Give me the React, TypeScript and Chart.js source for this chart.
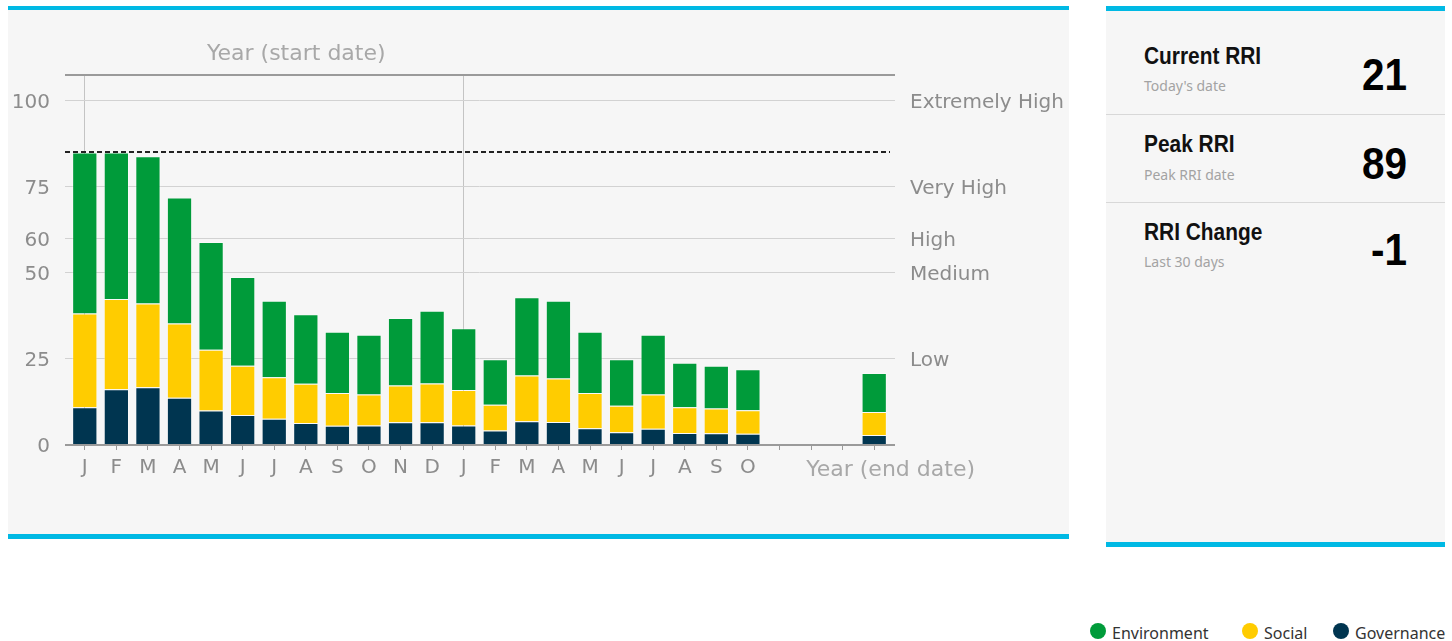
import React, { useEffect, useRef } from "react";
import { Chart, registerables } from "chart.js";

Chart.register(...registerables);

const MONTHS = ["J", "F", "M", "A", "M", "J", "J", "A", "S", "O", "N", "D", "J", "F", "M", "A", "M", "J", "J", "A", "S", "O", "", "", "", ""];
const GOVERNANCE = [11, 16.2, 16.8, 13.7, 10.0, 8.7, 7.6, 6.4, 5.6, 5.7, 6.6, 6.6, 5.7, 4.2, 6.9, 6.7, 4.9, 3.7, 4.7, 3.5, 3.4, 3.3, null, null, null, 2.9];
const SOCIAL = [27.2, 26.2, 24.3, 21.6, 17.7, 14.3, 12.1, 11.4, 9.5, 9.0, 10.7, 11.3, 10.3, 7.5, 13.3, 12.6, 10.2, 7.7, 10.0, 7.5, 7.2, 6.8, null, null, null, 6.7];
const ENVIRONMENT = [46.8, 42.6, 42.8, 36.6, 31.3, 25.8, 22.2, 20.2, 17.8, 17.3, 19.6, 21.1, 17.9, 13.2, 22.7, 22.6, 17.8, 13.5, 17.3, 12.9, 12.4, 11.9, null, null, null, 11.3];

const Y_TICKS = [0, 25, 50, 60, 75, 100];
const RISK_LEVELS = [25, 50, 60, 75, 100];
const RISK_NAMES = ["Low", "Medium", "High", "Very High", "Extremely High"];
const Y_MAX = 107.5;
const PEAK_LINE = 85;
const YEAR_STARTS = [0, 12];
const TOP_TITLE = "Year (start date)";
const END_TITLE = "Year (end date)";

const STAT_TITLES = ["Current RRI", "Peak RRI", "RRI Change"];
const STAT_SUBTITLES = ["Today's date", "Peak RRI date", "Last 30 days"];
const STAT_VALUES = ["21", "89", "-1"];

const LEGEND_NAMES = ["Environment", "Social", "Governance"];

const GREEN = "#009b3a";
const YELLOW = "#ffcc00";
const NAVY = "#003550";
const BLUE = "#00b9e4";
const PANEL_BG = "#f6f6f6";
const TICK_COLOR = "#8c8c8c";
const TITLE_COLOR = "#a8a8a8";
const GRID_COLOR = "#d2d2d2";
const AXIS_COLOR = "#9a9a9a";
const CHART_FONT = "'DejaVu Sans', sans-serif";
const BOLD_FONT = "'Liberation Sans', Arial, sans-serif";
const SANS_FONT = "'Noto Sans', sans-serif";

const decorations = {
  id: "decorations",
  afterDatasetsDraw(chart: any) {
    const { ctx, chartArea, scales } = chart;
    const y = scales.y;
    ctx.save();
    ctx.strokeStyle = AXIS_COLOR;
    ctx.lineWidth = 2;
    [Y_MAX, 0].forEach((v) => {
      const py = Math.round(y.getPixelForValue(v));
      ctx.beginPath();
      ctx.moveTo(chartArea.left - 4, py);
      ctx.lineTo(chartArea.right + 5, py);
      ctx.stroke();
    });
    const pk = Math.round(y.getPixelForValue(PEAK_LINE));
    ctx.strokeStyle = "#222";
    ctx.setLineDash([5, 3]);
    ctx.beginPath();
    ctx.moveTo(chartArea.left - 4, pk);
    ctx.lineTo(chartArea.right, pk);
    ctx.stroke();
    ctx.setLineDash([]);
    ctx.font = `22px ${CHART_FONT}`;
    ctx.fillStyle = TITLE_COLOR;
    ctx.textBaseline = "middle";
    ctx.textAlign = "left";
    ctx.fillText(TOP_TITLE, chartArea.left + 138, chartArea.top - 21);
    ctx.textAlign = "right";
    ctx.fillText(END_TITLE, chartArea.right + 85, chartArea.bottom + 25);
    ctx.restore();
  },
};

function ChartPanel() {
  const ref = useRef<HTMLCanvasElement | null>(null);
  useEffect(() => {
    if (!ref.current) return;
    const barCommon = {
      barPercentage: 0.8,
      categoryPercentage: 1,
      borderWidth: 1,
      borderColor: "rgba(255,255,255,0.35)",
      xAxisID: "x",
      yAxisID: "y",
    };
    const chart = new Chart(ref.current, {
      type: "bar",
      data: {
        labels: MONTHS,
        datasets: [
          { label: "Governance", data: GOVERNANCE, backgroundColor: NAVY, ...barCommon },
          { label: "Social", data: SOCIAL, backgroundColor: YELLOW, ...barCommon },
          { label: "Environment", data: ENVIRONMENT, backgroundColor: GREEN, ...barCommon },
        ] as any,
      },
      options: {
        animation: false,
        responsive: false,
        maintainAspectRatio: false,
        layout: { padding: 0 },
        plugins: { legend: { display: false }, tooltip: { enabled: false } },
        scales: {
          x: {
            type: "category",
            position: "bottom",
            stacked: true,
            offset: true,
            grid: { offset: false, drawOnChartArea: false, drawTicks: true, tickLength: 5, color: AXIS_COLOR, lineWidth: 1 },
            border: { display: false },
            ticks: { autoSkip: false, maxRotation: 0, padding: 6, color: TICK_COLOR, font: { family: CHART_FONT, size: 20 } },
            afterFit: (s: any) => { s.height = 89; },
          },
          xTop: {
            type: "category",
            position: "top",
            offset: true,
            grid: {
              offset: false,
              drawTicks: false,
              lineWidth: 1,
              color: (c: any) => (YEAR_STARTS.includes(c.index) ? "#c4c4c4" : "rgba(0,0,0,0)"),
            },
            border: { display: false },
            ticks: { display: false },
            afterFit: (s: any) => { s.height = 65; },
          },
          y: {
            type: "linear",
            position: "left",
            stacked: true,
            min: 0,
            max: Y_MAX,
            afterBuildTicks: (s: any) => { s.ticks = Y_TICKS.map((value) => ({ value })); },
            grid: { color: GRID_COLOR, lineWidth: 1, drawTicks: true, tickLength: 4 },
            border: { display: false },
            ticks: { padding: 15, labelOffset: 2, color: TICK_COLOR, font: { family: CHART_FONT, size: 20 } },
            afterFit: (s: any) => { s.width = 61; },
          },
          yRight: {
            type: "linear",
            position: "right",
            min: 0,
            max: Y_MAX,
            afterBuildTicks: (s: any) => { s.ticks = RISK_LEVELS.map((value) => ({ value })); },
            grid: { drawOnChartArea: false, color: GRID_COLOR, lineWidth: 1, drawTicks: true, tickLength: 5 },
            border: { display: false },
            ticks: {
              padding: 15,
              labelOffset: 2,
              color: TICK_COLOR,
              font: { family: CHART_FONT, size: 20 },
              callback: (_v: any, i: number) => RISK_NAMES[i],
            },
            afterFit: (s: any) => { s.width = 179; },
          },
        },
      } as any,
      plugins: [decorations],
    });
    return () => chart.destroy();
  }, []);
  return <canvas ref={ref} width={1061} height={524} style={{ display: "block", width: 1061, height: 524 }} />;
}

export default function App() {
  const abs = (s: React.CSSProperties): React.CSSProperties => ({ position: "absolute", ...s });
  const titleTops = [44, 132, 220];
  const subTops = [79, 167.5, 254.5];
  const valueTops = [53, 142, 228];
  const legendColors = [GREEN, YELLOW, NAVY];
  const legendDotX = [1090, 1242, 1333];
  return (
    <div style={abs({ left: 0, top: 0, width: 1452, height: 641, overflow: "hidden", background: "#fff" })}>
      <div style={abs({ left: 8, top: 6, width: 1061, height: 4, background: BLUE })} />
      <div style={abs({ left: 8, top: 10, width: 1061, height: 524, background: PANEL_BG })}>
        <ChartPanel />
      </div>
      <div style={abs({ left: 8, top: 534, width: 1061, height: 5, background: BLUE })} />

      <div style={abs({ left: 1106, top: 6, width: 339, height: 5, background: BLUE })} />
      <div style={abs({ left: 1106, top: 11, width: 339, height: 531, background: PANEL_BG })} />
      <div style={abs({ left: 1106, top: 542, width: 339, height: 5, background: BLUE })} />
      <div style={abs({ left: 1106, top: 114, width: 339, height: 1, background: "#d8d8d8" })} />
      <div style={abs({ left: 1106, top: 202, width: 339, height: 1, background: "#d8d8d8" })} />
      {STAT_TITLES.map((t, i) => (
        <React.Fragment key={t}>
          <div style={abs({ left: 1144, top: titleTops[i], fontFamily: BOLD_FONT, fontWeight: 700, fontSize: 24, lineHeight: "24px", color: "#111", whiteSpace: "nowrap", transform: "scaleX(0.87)", transformOrigin: "left center" })}>{t}</div>
          <div style={abs({ left: 1144, top: subTops[i], fontFamily: SANS_FONT, fontSize: 14, lineHeight: "14px", color: "#a3a3a3", whiteSpace: "nowrap" })}>{STAT_SUBTITLES[i]}</div>
          <div style={abs({ left: 1280, width: 127, top: valueTops[i], textAlign: "right", fontFamily: BOLD_FONT, fontWeight: 700, fontSize: 44, lineHeight: "44px", color: "#000", whiteSpace: "nowrap", transform: "scaleX(0.92)", transformOrigin: "right center" })}>{STAT_VALUES[i]}</div>
        </React.Fragment>
      ))}

      {LEGEND_NAMES.map((n, i) => (
        <React.Fragment key={n}>
          <div style={abs({ left: legendDotX[i], top: 623, width: 16, height: 16, borderRadius: 8, background: legendColors[i] })} />
          <div style={abs({ left: legendDotX[i] + 22, top: 625, fontFamily: SANS_FONT, fontSize: 16, lineHeight: "16px", color: "#333", whiteSpace: "nowrap" })}>{n}</div>
        </React.Fragment>
      ))}
    </div>
  );
}
